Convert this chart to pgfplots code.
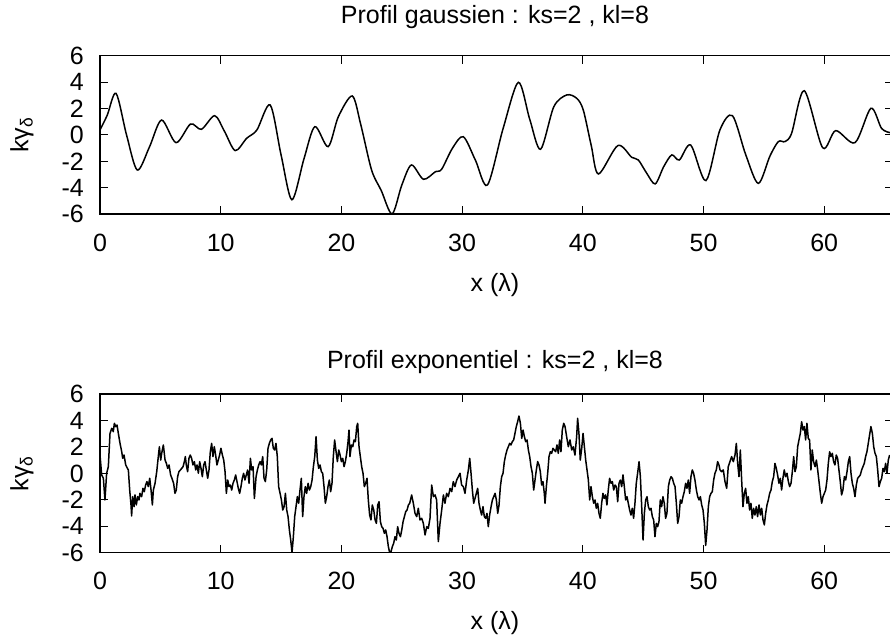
\documentclass[border=0pt]{standalone}
\usepackage{fontspec}
\setmainfont{Liberation Sans}
\usepackage{pgfplots}
\pgfplotsset{compat=1.18}

\pgfplotsset{
  profstyle/.style={
    scale only axis,
    width=793pt, height=158.6pt,
    xmin=0, xmax=65.7, ymin=-6, ymax=6,
    xtick={0,10,20,30,40,50,60},
    ytick={-6,-4,-2,0,2,4,6},
    /pgf/number format/assume math mode=true,
    tick align=inside,
    major tick length=8pt,
    tick style={line width=1pt, black},
    axis line style={line width=1.6pt},
    every tick label/.append style={font=\fontsize{25}{30}\selectfont},
    xticklabel style={anchor=center, yshift=-28.5pt},
    yticklabel style={anchor=east, inner sep=0pt, xshift=-16pt},
    label style={font=\fontsize{25}{30}\selectfont},
    title style={font=\fontsize{25}{30}\selectfont, anchor=center},
    xlabel style={anchor=center, at={(axis description cs:0.4981,-0.4458)}},
    ylabel style={anchor=center, at={(axis description cs:-0.0984,0.5)}, rotate=0},
    xlabel={x (λ)},
    ylabel={kγ\textsubscript{δ}},
  }
}

\begin{document}
\begin{tikzpicture}[x=1pt,y=1pt]
\useasboundingbox (0pt,0pt) rectangle (890pt,639pt);
\begin{axis}[profstyle, at={(100pt,424.7pt)}, anchor=south west,
  title={Profil gaussien : ks=2 , kl=8},
  title style={at={(axis description cs:0.4981,1.203)}}]
\addplot[black, line width=1.5pt, smooth, tension=0.5] coordinates {
(0,0.38)(0.6,1.5)(1.33,3.15)(2.2,0.0)(3.09,-2.65)(4.1,-0.9)(5.1,1.13)(6.3,-0.58)
(7.5,0.83)(8.4,0.43)(9.5,1.46)(10.3,0.3)(11.2,-1.18)(12.15,-0.25)(13.0,0.38)
(14.1,2.27)(15.0,-1.5)(15.9,-4.9)(16.9,-1.8)(17.8,0.63)(18.9,-0.88)(19.75,1.39)
(20.9,2.95)(21.6,0.8)(22.5,-2.65)(23.3,-4.2)(24.2,-5.97)(25.0,-3.8)(25.8,-2.27)
(26.8,-3.35)(27.8,-2.77)(28.3,-2.6)(29.2,-1.0)(30.1,-0.13)(31.1,-1.9)(32.1,-3.78)
(33.4,0.5)(34.66,3.98)(35.6,1.2)(36.5,-1.08)(37.6,2.14)(38.67,3.03)(39.5,2.77)
(40.04,1.89)(40.7,-0.8)(41.3,-2.95)(42.9,-0.8)(44.05,-1.69)(44.6,-1.89)(45.3,-2.9)
(46.0,-3.7)(46.7,-2.4)(47.37,-1.51)(48.0,-1.89)(48.94,-0.76)(50.2,-3.45)(51.36,0.38)
(52.4,1.46)(53.5,-1.5)(54.54,-3.66)(55.5,-1.6)(56.2,-0.5)(56.75,-0.5)(57.3,0.13)
(58.35,3.35)(59.87,-0.96)(60.95,0.33)(62.55,-0.58)(63.87,2.02)(64.75,0.5)(65.45,0.18)
};
\end{axis}

\begin{axis}[profstyle, at={(100pt,86.3pt)}, anchor=south west,
  title={Profil exponentiel : ks=2 , kl=8},
  title style={at={(axis description cs:0.4981,1.165)}}]
\addplot[black, line width=1.5pt, line join=round] coordinates {
(0.00,1.39)(0.14,-0.12)(0.28,-0.37)(0.41,-2.01)(0.55,0.01)(0.69,0.51)(0.83,3.03)(0.97,3.41)
(1.10,3.16)(1.19,3.79)(1.30,3.54)(1.41,3.66)(1.52,3.03)(1.66,2.27)(1.80,1.64)(1.88,1.14)
(1.99,1.39)(2.13,0.64)(2.27,0.38)(2.35,0.26)(2.46,-1.26)(2.57,-2.39)(2.62,-3.22)(2.71,-1.76)
(2.82,-2.52)(2.90,-1.63)(3.01,-2.39)(3.12,-1.76)(3.23,-2.01)(3.31,-1.51)(3.45,-1.76)(3.56,-1.13)
(3.67,-1.38)(3.78,-0.88)(3.89,-0.62)(4.00,-1.00)(4.12,-0.37)(4.23,-1.26)(4.34,-2.39)(4.42,-1.26)
(4.56,-0.75)(4.70,0.13)(4.83,1.27)(4.92,2.02)(5.03,1.01)(5.11,1.52)(5.25,2.15)(5.39,1.01)
(5.50,0.76)(5.61,0.38)(5.72,0.64)(5.85,-0.12)(5.96,-0.37)(6.10,-0.75)(6.21,-1.51)(6.32,-1.26)
(6.43,-0.25)(6.54,0.13)(6.66,0.26)(6.77,0.38)(6.88,0.51)(6.99,0.89)(7.07,1.27)(7.15,0.64)
(7.26,0.13)(7.37,1.14)(7.48,1.39)(7.59,1.14)(7.70,0.64)(7.82,0.89)(7.93,0.26)(8.04,0.64)
(8.15,0.01)(8.26,0.89)(8.37,0.38)(8.48,-0.25)(8.59,0.64)(8.70,0.89)(8.81,0.26)(8.92,-0.37)
(9.03,0.26)(9.14,1.64)(9.25,2.27)(9.36,1.27)(9.47,2.02)(9.58,1.39)(9.69,0.64)(9.80,1.01)
(9.91,1.39)(10.02,1.90)(10.14,1.39)(10.25,1.01)(10.36,0.13)(10.47,-1.51)(10.58,-0.50)(10.69,-1.00)
(10.80,-0.88)(10.91,-1.26)(11.02,-0.75)(11.13,-0.50)(11.24,-0.12)(11.35,-0.62)(11.46,-1.13)(11.57,-1.51)
(11.68,-1.00)(11.79,-0.37)(11.90,0.01)(12.01,-0.50)(12.12,-0.12)(12.23,0.26)(12.35,-0.75)(12.46,1.14)
(12.57,0.26)(12.68,0.51)(12.79,-1.89)
(12.93,-0.25)(13.04,0.26)(13.15,0.64)(13.26,0.89)(13.37,0.64)(13.48,1.27)(13.59,-0.37)(13.70,-0.62)
(13.81,0.26)(13.92,1.90)(14.03,2.27)(14.14,2.53)(14.25,2.65)(14.36,1.90)(14.47,1.77)(14.58,2.27)
(14.69,1.27)(14.80,-1.00)(14.92,-1.51)(15.03,-2.01)(15.14,-2.77)(15.25,-2.52)(15.36,-1.51)(15.47,-2.77)
(15.58,-3.27)(15.69,-4.28)(15.80,-5.04)(15.91,-5.98)(16.02,-4.79)(16.13,-3.27)(16.24,-2.52)(16.35,-1.76)
(16.46,-2.26)(16.57,-1.26)(16.68,-0.37)(16.79,-3.27)(16.90,-1.76)(17.01,-1.00)(17.12,-1.51)(17.24,-0.75)
(17.35,-1.26)(17.46,-1.00)(17.57,-0.50)(17.68,0.51)(17.79,1.27)(17.90,2.78)(18.01,1.01)(18.12,0.38)
(18.23,0.64)(18.34,0.13)(18.45,0.01)(18.56,-1.00)(18.67,-2.26)(18.78,-1.76)(18.89,-1.00)(19.00,-0.50)
(19.11,-1.38)(19.22,-0.75)(19.33,1.27)(19.44,2.53)(19.56,1.64)(19.67,0.89)(19.78,1.77)(19.89,1.39)
(20.00,0.89)(20.11,1.14)(20.22,0.51)(20.33,0.89)(20.44,1.52)(20.55,2.40)(20.63,3.28)(20.71,1.27)
(20.83,2.15)(20.94,2.02)(21.05,2.53)(21.16,2.40)(21.27,3.54)(21.35,3.79)(21.46,2.02)(21.57,1.27)
(21.68,0.51)(21.79,0.01)(21.90,-1.00)(22.01,-0.75)(22.12,-0.37)(22.23,-2.01)(22.34,-3.15)(22.45,-3.52)
(22.56,-2.39)(22.68,-2.77)(22.79,-3.52)(22.90,-3.78)(23.01,-2.39)(23.12,-2.14)(23.23,-3.65)(23.34,-4.03)
(23.45,-4.16)(23.56,-4.53)(23.67,-4.28)(23.78,-4.79)(23.89,-5.54)(24.00,-6.00)(24.11,-5.92)(24.22,-5.54)
(24.33,-5.29)(24.44,-4.79)(24.55,-5.04)(24.66,-4.03)(24.77,-4.53)(24.89,-4.79)(25.00,-4.28)(25.11,-3.65)
(25.22,-3.27)(25.33,-2.89)(25.44,-2.77)(25.55,-2.39)(25.66,-2.26)
(25.82,-1.63)(25.96,-2.26)(26.10,-3.02)(26.24,-3.27)(26.37,-2.64)(26.51,-3.52)(26.65,-3.40)(26.79,-3.78)
(26.93,-4.66)(27.07,-4.03)(27.20,-4.16)(27.34,-3.40)(27.48,-0.88)(27.62,-1.76)(27.76,-1.63)(27.89,-2.01)
(28.03,-5.16)(28.17,-3.78)(28.31,-2.77)(28.45,-1.63)(28.58,-2.26)(28.72,-1.51)(28.86,-1.76)(29.00,-1.13)
(29.14,-1.38)(29.27,-0.62)(29.41,-1.00)(29.55,-0.50)(29.69,-0.25)(29.83,0.01)(29.96,-0.88)(30.10,-1.00)
(30.24,-1.51)(30.38,-0.50)(30.52,0.26)(30.63,1.14)(30.74,0.01)(30.85,-1.26)(30.96,-2.26)(31.07,-1.89)
(31.18,-1.51)(31.29,-1.13)(31.40,-2.26)(31.51,-2.77)(31.62,-3.15)(31.73,-2.52)(31.84,-3.27)(31.95,-3.40)
(32.06,-3.02)(32.17,-4.03)(32.28,-3.15)(32.40,-2.52)(32.51,-2.01)(32.62,-1.76)(32.73,-1.51)(32.84,-2.01)
(32.95,-3.02)(33.06,-2.39)(33.17,-1.00)(33.28,-0.25)(33.39,0.01)(33.50,0.89)(33.61,1.39)(33.72,1.77)
(33.83,2.02)(33.94,2.27)(34.05,2.15)(34.16,2.40)(34.27,2.53)(34.38,3.03)(34.49,3.54)(34.60,3.91)
(34.71,4.34)(34.83,3.79)(34.94,2.65)(35.05,3.28)(35.16,2.78)(35.27,2.40)(35.38,2.53)(35.49,1.77)
(35.60,1.27)(35.71,0.51)(35.82,0.01)(35.93,-1.26)(36.04,-0.50)(36.15,0.26)(36.26,0.89)(36.37,0.64)
(36.48,0.13)(36.59,-0.88)(36.70,-0.62)(36.81,-1.51)(36.87,-2.26)(36.98,-1.00)(37.09,0.01)(37.20,1.27)
(37.31,1.64)(37.42,1.52)(37.53,1.90)(37.64,1.77)(37.75,1.64)(37.86,2.15)(37.97,1.52)(38.08,2.53)
(38.19,1.64)(38.30,3.28)(38.42,3.79)(38.53,3.54)
(38.66,2.78)(38.80,2.02)(38.94,2.53)(39.08,1.77)(39.21,2.02)(39.35,1.39)(39.49,2.78)(39.57,4.17)
(39.68,3.03)(39.79,1.01)(39.91,1.90)(40.02,3.03)(40.13,2.02)(40.24,1.01)(40.35,0.26)(40.46,-0.50)
(40.57,-2.01)(40.68,-1.00)(40.79,-1.76)(40.90,-2.26)(41.01,-2.01)(41.12,-2.64)(41.23,-2.26)(41.34,-3.02)
(41.45,-3.40)(41.56,-2.26)(41.67,-1.51)(41.78,-1.89)(41.89,-1.63)(42.00,-2.39)(42.11,-1.26)(42.22,-0.37)
(42.34,-0.75)(42.45,-0.62)(42.56,-1.26)(42.67,-0.88)(42.78,-1.00)(42.89,-2.14)(43.00,-0.75)(43.11,-0.50)
(43.22,-1.00)(43.33,-0.12)(43.44,-1.00)(43.55,-2.01)(43.66,-1.76)(43.77,-2.26)(43.88,-2.77)(43.99,-3.15)
(44.10,-2.64)(44.21,-3.40)(44.32,-2.26)(44.43,-0.75)(44.54,0.01)(44.66,0.89)(44.77,-0.25)(44.88,-2.52)
(44.99,-5.04)(45.10,-3.02)(45.21,-2.01)(45.32,-1.76)(45.43,-2.52)(45.54,-2.77)(45.65,-2.64)(45.76,-3.27)
(45.87,-3.52)(45.98,-4.79)(46.09,-3.78)(46.20,-4.03)(46.31,-3.65)(46.42,-2.01)(46.53,-2.52)(46.64,-1.76)
(46.75,-2.26)(46.86,-3.40)(46.97,-3.02)(47.09,-1.00)(47.20,-0.50)(47.31,-0.25)(47.42,-0.37)(47.53,-0.75)
(47.64,-1.00)(47.75,-2.26)(47.86,-3.78)(47.97,-3.27)(48.08,-2.01)(48.19,-2.26)(48.30,-1.76)(48.41,-1.38)
(48.52,-0.75)(48.63,-1.13)(48.74,-0.50)(48.85,-1.51)(48.96,-0.25)(49.07,0.26)(49.18,0.01)(49.29,-0.50)
(49.41,-1.26)(49.52,-1.76)(49.63,-2.01)(49.74,-1.76)(49.85,-2.39)(49.96,-2.77)(50.07,-3.78)(50.18,-5.45)
(50.29,-4.28)(50.40,-2.52)(50.51,-1.76)(50.62,-1.51)(50.73,-1.38)(50.84,-0.50)(50.95,0.01)(51.06,0.26)
(51.17,0.89)(51.28,0.64)(51.37,0.26)
(51.50,0.13)(51.64,0.26)(51.78,-0.62)(51.92,-1.13)(52.05,0.51)(52.19,0.89)(52.33,1.27)(52.47,0.89)
(52.61,1.39)(52.72,2.27)(52.83,0.76)(52.94,-0.25)(53.05,1.77)(53.16,-0.50)(53.27,-2.52)(53.38,-1.51)
(53.49,-1.13)(53.60,-2.26)(53.71,-1.76)(53.82,-2.77)(53.93,-2.26)(54.04,-3.40)(54.15,-2.64)(54.26,-3.15)
(54.37,-2.52)(54.48,-3.27)(54.60,-2.39)(54.71,-3.15)(54.82,-2.64)(54.93,-3.52)(55.04,-3.90)(55.15,-3.02)
(55.26,-2.39)(55.37,-2.01)(55.48,-1.51)(55.59,-1.26)(55.70,-0.62)(55.81,-0.25)(55.92,0.76)(56.03,0.38)
(56.14,-0.12)(56.25,-0.75)(56.36,-0.37)(56.47,-1.26)(56.58,-0.37)(56.69,0.26)(56.80,-0.25)(56.92,0.01)
(57.03,-0.62)(57.14,-1.00)(57.25,-0.75)(57.36,0.13)(57.47,1.27)(57.58,0.13)(57.69,0.51)(57.80,2.02)
(57.91,2.53)(58.02,3.03)(58.13,3.91)(58.24,3.28)(58.35,3.54)(58.46,2.53)(58.57,3.79)(58.68,2.65)
(58.79,2.53)(58.90,0.26)(59.01,1.77)(59.12,0.89)(59.24,0.51)(59.35,1.01)(59.46,0.26)(59.57,-0.62)
(59.68,-1.51)(59.79,-2.26)(59.90,-1.76)(60.01,-1.51)(60.12,-1.26)(60.23,-0.50)(60.34,0.76)(60.45,1.64)
(60.56,1.27)(60.67,1.52)(60.78,0.89)(60.89,0.64)(61.00,1.39)(61.11,1.14)(61.22,0.26)(61.33,-0.62)
(61.44,-1.63)(61.55,-1.26)(61.67,-0.25)(61.78,-0.50)(61.89,0.13)(62.00,0.89)(62.11,1.27)(62.22,0.01)
(62.33,-0.75)(62.44,-1.13)(62.55,-1.76)(62.66,-0.88)(62.77,-0.37)(62.88,-0.25)(62.99,-0.12)(63.10,0.26)
(63.21,0.51)(63.32,0.76)(63.43,1.27)(63.54,1.64)(63.65,2.27)(63.76,2.91)(63.87,3.54)(63.99,3.03)
(64.10,2.02)(64.21,1.52)(64.32,1.27)(64.43,0.26)(64.54,-1.00)(64.65,-0.62)(64.76,-0.37)(64.87,0.38)
(64.98,0.13)(65.09,0.76)(65.20,0.01)(65.31,1.01)(65.42,1.39)
};
\end{axis}
\end{tikzpicture}
\end{document}
